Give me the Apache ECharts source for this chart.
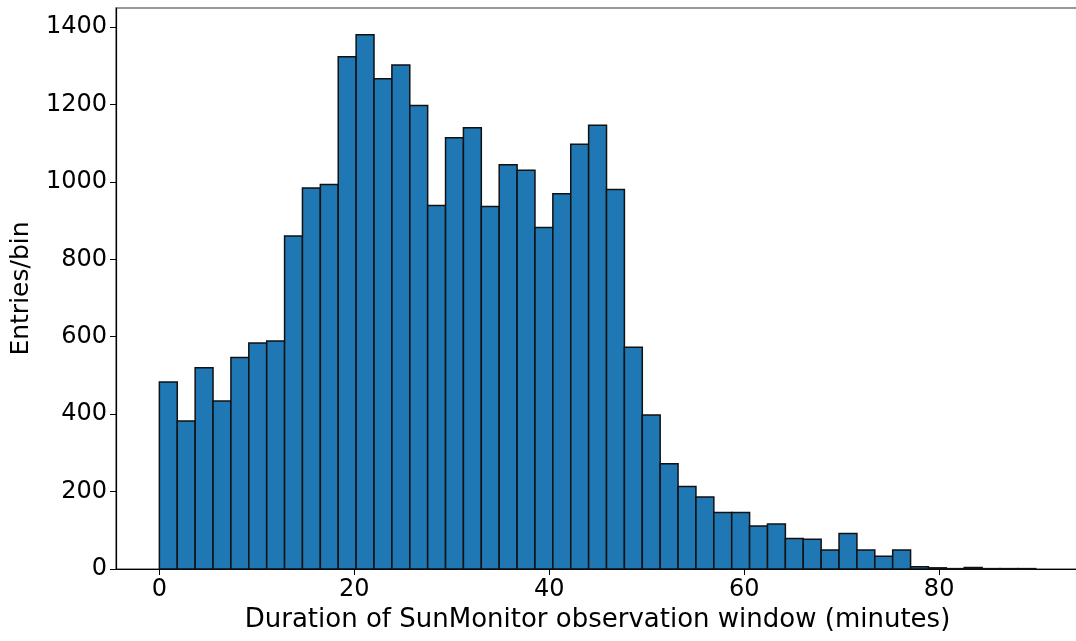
<!doctype html>
<html>
	<head>
		<meta charset="UTF-8">
		<title>SunMonitor observation window</title>
		<style>
			html, body { margin: 0; padding: 0; background: #fff; }
			#chart { width: 1076px; height: 641px; }
		</style>
	</head>
	<body>
		<div id="chart"></div>
		<script src="https://cdn.jsdelivr.net/npm/echarts@6/dist/echarts.min.js"></script>
		<script type="text/javascript">
			// histogram bins (minutes)
			var binStart = 0;
			var binWidth = 1.835;
			// entries per bin
			var counts = [483, 382, 520, 434, 546, 584, 589, 860, 984, 993,
				1323, 1380, 1266, 1302, 1197, 939, 1114, 1140, 936, 1044,
				1030, 882, 969, 1097, 1146, 980, 573, 398, 272, 213,
				186, 146, 146, 111, 116, 79, 77, 49, 92, 49,
				33, 49, 6, 3, 1, 4, 1, 1, 1];
			var xTicks = [0, 20, 40, 60, 80];
			var yTicks = [0, 200, 400, 600, 800, 1000, 1200, 1400];

			var histData = [];
			for(var i = 0; i < counts.length; i++) {
				var lo = binStart + i * binWidth;
				histData.push([lo, lo + binWidth, counts[i]]);
			}

			var font = 'DejaVu Sans';

			function renderBin(params, api) {
				var p0 = api.coord([api.value(0), api.value(2)]);
				var p1 = api.coord([api.value(1), 0]);
				return {
					type: 'rect',
					shape: {
						x: p0[0],
						y: p0[1],
						width: p1[0] - p0[0],
						height: p1[1] - p0[1]
					},
					style: {
						fill: '#1f77b4',
						stroke: '#111111',
						lineWidth: 1.5
					}
				};
			}

			var option = {
				animation: false,
				backgroundColor: '#ffffff',
				grid: {
					left: 116,
					right: -3,
					top: 8,
					bottom: 72,
					outerBoundsMode: 'none',
					containLabel: false,
					show: true,
					borderColor: '#777777',
					borderWidth: 1.5
				},
				xAxis: {
					type: 'value',
					min: -4.45,
					max: 94.35,
					name: 'Duration of SunMonitor observation window (minutes)',
					nameLocation: 'middle',
					nameGap: 37,
					nameTextStyle: { fontFamily: font, fontSize: 26, color: '#000' },
					axisLine: { show: true, onZero: false, lineStyle: { color: '#000', width: 1.2 } },
					axisTick: { show: true, length: 6, customValues: xTicks, lineStyle: { color: '#000' } },
					axisLabel: {
						customValues: xTicks, fontFamily: font, fontSize: 24, color: '#000', margin: 9,
						formatter: function(v) { return String(v); }
					},
					splitLine: { show: false }
				},
				yAxis: {
					type: 'value',
					min: 0,
					max: 1449,
					name: 'Entries/bin',
					nameLocation: 'middle',
					nameGap: 82,
					nameTextStyle: { fontFamily: font, fontSize: 25, color: '#000' },
					axisLine: { show: true, onZero: false, lineStyle: { color: '#000', width: 1.2 } },
					axisTick: { show: true, length: 6, customValues: yTicks, lineStyle: { color: '#000' } },
					axisLabel: {
						customValues: yTicks, fontFamily: font, fontSize: 24, color: '#000', margin: 9,
						formatter: function(v) { return String(v); }
					},
					splitLine: { show: false }
				},
				series: [{
					type: 'custom',
					renderItem: renderBin,
					encode: { x: [0, 1], y: 2 },
					data: histData
				}]
			};

			var chart = echarts.init(document.getElementById('chart'));
			chart.setOption(option);
		</script>
	</body>
</html>
